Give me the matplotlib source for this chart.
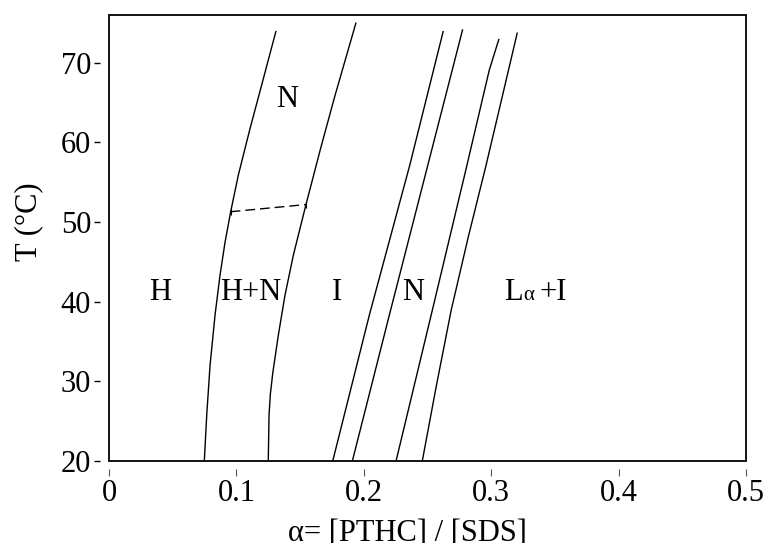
import matplotlib
matplotlib.use("Agg")
import matplotlib.pyplot as plt
from matplotlib.patches import Rectangle
from matplotlib.offsetbox import TextArea, HPacker, AnnotationBbox

plt.rcParams["font.family"] = ["Liberation Serif", "DejaVu Serif"]

# Phase boundaries: alpha = [PTHC]/[SDS] versus temperature (deg C)
h_edge_alpha = [0.0748, 0.0767, 0.0793, 0.0832, 0.0871, 0.0911, 0.0955,
                0.1015, 0.1107, 0.1198, 0.1311]
h_edge_T = [20.0, 25.8, 32.0, 38.3, 43.3, 47.5, 51.3, 55.9, 61.75, 67.2, 74.0]

hn_edge_alpha = [0.1250, 0.1256, 0.1267, 0.1285, 0.1329, 0.1381, 0.1447,
                 0.1546, 0.1660, 0.1774, 0.1939]
hn_edge_T = [20.0, 25.8, 28.5, 31.0, 35.8, 40.8, 45.85, 52.2, 59.2, 65.9, 75.05]

i_edge_alpha = [0.1756, 0.2043, 0.2360, 0.2624]
i_edge_T = [20.0, 38.3, 57.1, 74.0]

n_left_alpha = [0.1910, 0.2200, 0.2776]
n_left_T = [20.0, 38.3, 74.2]

n_right_alpha = [0.2253, 0.2538, 0.2800, 0.2985, 0.3061]
n_right_T = [20.0, 38.95, 56.5, 69.1, 73.0]

la_edge_alpha = [0.2459, 0.2570, 0.2686, 0.2818, 0.2959, 0.3083, 0.3205]
la_edge_T = [20.0, 29.5, 38.95, 48.0, 57.1, 65.5, 73.8]

# H -> N transition inside the two-phase region
tie_alpha = [0.0955, 0.1546]
tie_T = [51.3, 52.2]

# Region labels
region_names = ["N", "H", "H+N", "I", "N"]
region_alpha = [0.1397, 0.0400, 0.1115, 0.1790, 0.2390]
region_T = [65.4, 41.2, 41.2, 41.2, 41.2]
lam_label_alpha = 0.3350
lam_label_T = 41.2

x_ticks = [0, 0.1, 0.2, 0.3, 0.4, 0.5]
x_tick_labels = ["0", "0.1", "0.2", "0.3", "0.4", "0.5"]
y_ticks = [20, 30, 40, 50, 60, 70]

fig = plt.figure(figsize=(7.71, 5.43), dpi=100)
ax = fig.add_axes([0.1414, 0.1510, 0.8262, 0.8214])

lw = 1.0
for xs, ys in [(h_edge_alpha, h_edge_T), (hn_edge_alpha, hn_edge_T),
               (i_edge_alpha, i_edge_T), (n_left_alpha, n_left_T),
               (n_right_alpha, n_right_T), (la_edge_alpha, la_edge_T)]:
    ax.plot(xs, ys, color="black", lw=lw, solid_capstyle="butt",
            solid_joinstyle="round")

ax.plot(tie_alpha, tie_T, color="black", lw=lw, dashes=(7, 3.6),
        marker="|", markersize=4, markeredgewidth=0.8)

fs = 22
for name, xa, ya in zip(region_names, region_alpha, region_T):
    ax.text(xa, ya, name, fontsize=fs, ha="center", va="center")

l_alpha = HPacker(children=[TextArea("L", textprops=dict(fontsize=fs)),
                            TextArea("α", textprops=dict(fontsize=15))],
                  align="baseline", pad=0, sep=0)
parts = HPacker(children=[l_alpha,
                          TextArea("+I", textprops=dict(fontsize=fs))],
                align="baseline", pad=0, sep=4)
ab = AnnotationBbox(parts, (lam_label_alpha, lam_label_T), frameon=False,
                    box_alignment=(0.5, 0.5), pad=0)
ax.add_artist(ab)

ax.set_xlim(0, 0.5)
ax.set_ylim(20, 76)
ax.set_xticks(x_ticks)
ax.set_xticklabels(x_tick_labels)
ax.set_yticks(y_ticks)

# Ticks sit detached from the frame
for side in ["top", "right", "bottom", "left"]:
    ax.spines[side].set_visible(False)
ax.spines["bottom"].set_position(("outward", 6))
ax.spines["left"].set_position(("outward", 6.5))
ax.tick_params(axis="x", direction="out", length=5, width=0.8, pad=2,
               labelsize=fs, color="#555555")
ax.tick_params(axis="y", direction="out", length=4.3, width=1.0, pad=2,
               labelsize=fs)
ax.add_patch(Rectangle((0, 0), 1, 1, transform=ax.transAxes, fill=False,
                       lw=1.3, edgecolor="black", clip_on=False, zorder=5))

fig.text(0.037, 0.591, "T (°C)", fontsize=fs, rotation=90,
         ha="center", va="center")
fig.text(0.528, 0.003, "α= [PTHC] / [SDS]", fontsize=fs,
         ha="center", va="baseline")

fig.savefig("out.png", dpi=100)
